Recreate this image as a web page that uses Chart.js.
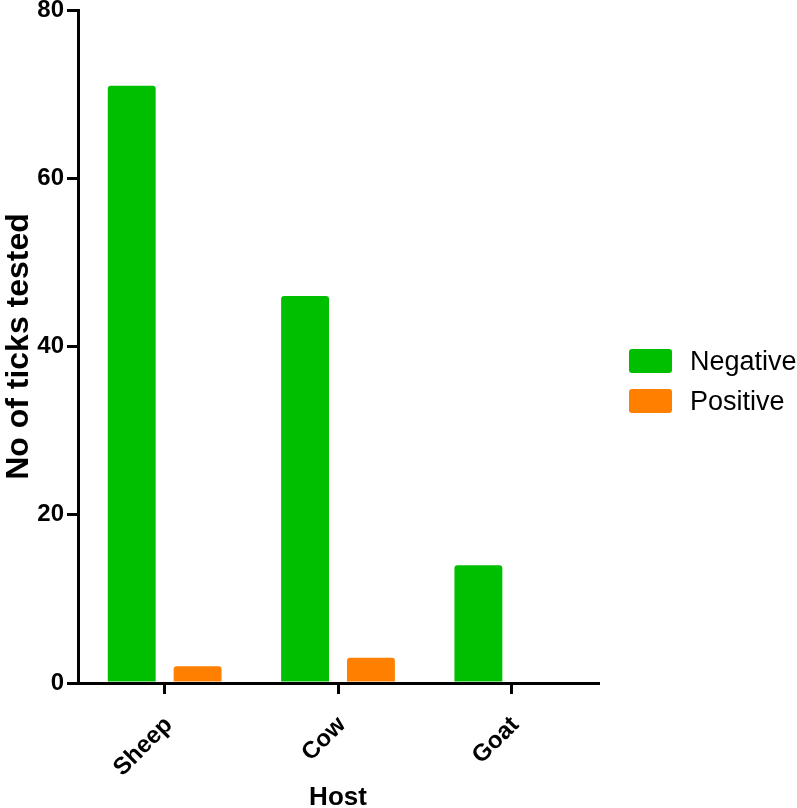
<!DOCTYPE html>
<html>
<head>
<meta charset="utf-8">
<script src="https://cdn.jsdelivr.net/npm/chart.js@4"></script>
<style>
  html, body { margin: 0; padding: 0; background: #fff; }
  #wrap { position: relative; width: 797px; height: 808px; }
  #legend { position: absolute; left: 629px; top: 349px; font-family: "Liberation Sans", Arial, sans-serif; font-size: 27px; color: #000; }
  .item { position: relative; height: 24px; margin-bottom: 16px; }
  .swatch { position: absolute; left: 0; top: 0; width: 43px; height: 24px; border-radius: 3px; }
  .label { position: absolute; left: 61px; top: 50%; transform: translateY(-50%); white-space: nowrap; line-height: 1; }
</style>
</head>
<body>
<div id="wrap">
  <canvas id="chart" width="797" height="808"></canvas>
  <div id="legend"></div>
</div>
<script>
const hosts = ['Sheep', 'Cow', 'Goat'];
const negative = [71, 46, 14];
const positive = [2, 3, 0];
const seriesNames = ['Negative', 'Positive'];
const seriesColors = ['#00bf00', '#ff8000'];
const yTicks = [0, 20, 40, 60, 80];

const font = 'Liberation Sans, Arial, sans-serif';

const datasets = [negative, positive].map((data, i) => ({
  label: seriesNames[i],
  data,
  backgroundColor: seriesColors[i],
  borderRadius: 3,
  categoryPercentage: 0.76,
  barPercentage: 0.727
}));

// legend as html, built from the series
const legendEl = document.getElementById('legend');
datasets.forEach(d => {
  const row = document.createElement('div');
  row.className = 'item';
  row.innerHTML = '<div class="swatch" style="background:' + d.backgroundColor + '"></div><div class="label">' + d.label + '</div>';
  legendEl.appendChild(row);
});

new Chart(document.getElementById('chart'), {
  type: 'bar',
  data: { labels: hosts, datasets },
  options: {
    responsive: false,
    animation: false,
    layout: { padding: { top: 10, right: 199, left: 0, bottom: 0 } },
    plugins: { legend: { display: false }, tooltip: { enabled: false } },
    scales: {
      x: {
        offset: true,
        grid: { display: true, offset: false, drawOnChartArea: false, drawTicks: true, tickLength: 11, lineWidth: 3, color: '#000' },
        border: { display: true, width: 3, color: '#000' },
        ticks: { autoSkip: false, maxRotation: 45, minRotation: 45, padding: 17, labelOffset: 4, color: '#000', font: { family: font, size: 24, weight: 'bold' } },
        title: { display: true, text: 'Host', color: '#000', padding: { top: 0, bottom: -5 }, font: { family: font, size: 26, weight: 'bold' } },
        afterFit: s => { s.height = 125; s.paddingLeft = 0; s.paddingRight = 0; }
      },
      y: {
        min: 0,
        max: 80,
        afterBuildTicks: s => { s.ticks = yTicks.map(v => ({ value: v })); },
        grid: { display: true, drawOnChartArea: false, drawTicks: true, tickLength: 11, lineWidth: 3, color: '#000' },
        border: { display: true, width: 3, color: '#000' },
        ticks: { padding: 3, color: '#000', font: { family: font, size: 24, weight: 'bold' } },
        title: { display: true, text: 'No of ticks tested', color: '#000', padding: 0, font: { family: font, size: 32, weight: 'bold' } },
        afterFit: s => { s.width = 78; s.paddingTop = 0; s.paddingBottom = 0; }
      }
    }
  }
});
</script>
</body>
</html>
